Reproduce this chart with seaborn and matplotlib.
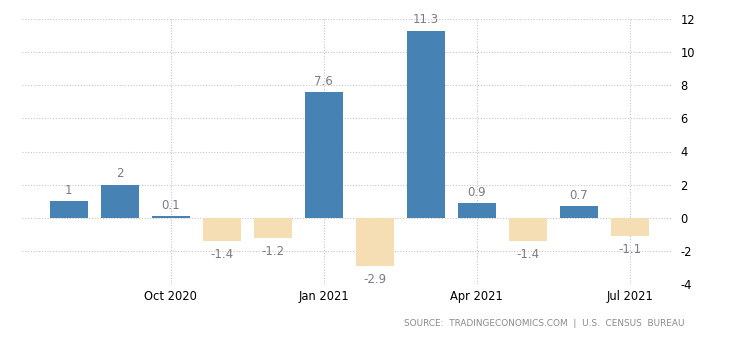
import matplotlib
matplotlib.use("Agg")
import matplotlib.pyplot as plt
import seaborn as sns
import pandas as pd

months = ["Aug 2020", "Sep 2020", "Oct 2020", "Nov 2020", "Dec 2020", "Jan 2021",
          "Feb 2021", "Mar 2021", "Apr 2021", "May 2021", "Jun 2021", "Jul 2021"]
values = [1, 2, 0.1, -1.4, -1.2, 7.6, -2.9, 11.3, 0.9, -1.4, 0.7, -1.1]
tick_months = ["Oct 2020", "Jan 2021", "Apr 2021", "Jul 2021"]
y_ticks = [-4, -2, 0, 2, 4, 6, 8, 10, 12]

POS = "#4682B4"
NEG = "#F5DEB3"
LABEL = "#7a7a8a"

df = pd.DataFrame({"month": months, "value": values})
df["sign"] = ["pos" if v >= 0 else "neg" for v in values]

sns.set_theme(style="white")
plt.rcParams["font.family"] = ["DejaVu Sans"]

fig = plt.figure(figsize=(7.3, 3.4), dpi=100)
ax = fig.add_axes([22 / 730, 1 - 284 / 340, 650 / 730, 265 / 340])

sns.barplot(data=df, x="month", y="value", hue="sign",
            palette={"pos": POS, "neg": NEG}, order=months,
            dodge=False, width=0.74, legend=False, ax=ax, saturation=1,
            edgecolor="none", linewidth=0)

ax.set_ylim(-4, 12)
ax.set_xlim(-0.92, 11.83)
ax.set_yticks(y_ticks)
ax.set_yticklabels([str(t) for t in y_ticks])
ax.yaxis.tick_right()
ax.set_xticks([months.index(m) for m in tick_months])
ax.set_xticklabels(tick_months)
ax.tick_params(axis="both", length=0, labelsize=8.3, colors="black")
ax.tick_params(axis="y", pad=6)
ax.tick_params(axis="x", pad=4)
ax.set_xlabel("")
ax.set_ylabel("")
for s in ax.spines.values():
    s.set_visible(False)

ax.grid(True, axis="both", linestyle=(0, (1, 1.5)), color="#c8c8c8", linewidth=0.8)
ax.set_axisbelow(True)

for i, v in enumerate(values):
    txt = f"{v:g}"
    if v >= 0:
        ax.annotate(txt, (i, v), xytext=(0, 3), textcoords="offset points",
                    ha="center", va="bottom", fontsize=8.5, color=LABEL)
    else:
        ax.annotate(txt, (i, v), xytext=(0, -5), textcoords="offset points",
                    ha="center", va="top", fontsize=8.5, color=LABEL)

fig.text(685 / 730, 1 - 324 / 340, "SOURCE:  TRADINGECONOMICS.COM  |  U.S.  CENSUS  BUREAU",
         ha="right", va="center", fontsize=6.4, color="#8a8a8a")

fig.savefig("out.png", dpi=100, facecolor="white")
